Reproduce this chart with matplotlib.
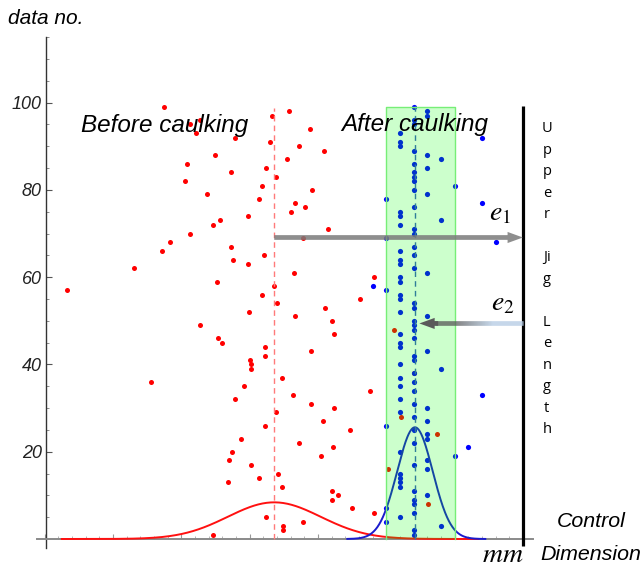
import numpy as np
import matplotlib
matplotlib.use("Agg")
import matplotlib.pyplot as plt
from matplotlib.collections import LineCollection
from matplotlib.colors import to_rgb
from matplotlib.ticker import MultipleLocator

plt.rcParams['font.family'] = ['Liberation Sans', 'DejaVu Sans']
plt.rcParams['mathtext.fontset'] = 'stix'

# data no. 1..99, measured dimension (x in arbitrary mm units, tick = 1)
red_no = np.arange(1, 100)
red_x = [1.47, 2.49, 2.49, 2.78, 2.24, 3.82, 3.50, 4.61, 3.21, 3.30,
         3.21, 2.48, 1.68, 2.13, 2.42, 4.02, 2.02, 1.70, 3.04, 1.74,
         3.22, 2.72, 1.88, 4.75, 3.47, 2.22, 3.07, 4.22, 2.38, 3.23,
         2.90, 1.79, 2.63, 3.76, 1.92, 0.55, 2.47, 4.41, 2.02, 2.02,
         2.00, 2.23, 2.90, 2.22, 1.59, 1.54, 3.23, 4.11, 1.28, 3.21,
         2.66, 1.99, 3.10, 2.40, 3.62, 2.18, -0.67, 2.35, 1.52, 3.82,
         2.65, 0.30, 1.98, 1.75, 2.21, 0.72, 1.73, 0.84, 2.78, 1.12,
         3.15, 1.47, 1.57, 1.97, 2.61, 2.81, 2.66, 2.13, 1.37, 2.92,
         2.18, 1.06, 2.38, 1.73, 2.24, 1.08, 2.55, 1.49, 3.09, 2.72,
         2.30, 1.78, 1.22, 2.89, 1.13, 1.28, 2.33, 2.58, 0.75]

blue_no = np.arange(1, 100)
blue_x = [4.4, 4.4, 4.8, 4.0, 4.2, 4.4, 4.0, 4.4, 4.4, 4.6,
          4.4, 4.2, 4.2, 4.2, 4.2, 4.6, 4.4, 4.6, 5.0, 4.2,
          5.2, 4.4, 4.6, 4.6, 4.4, 4.0, 4.6, 4.4, 4.2, 4.6,
          4.4, 4.2, 5.4, 4.4, 4.2, 4.4, 4.2, 4.4, 4.8, 4.2,
          4.4, 4.4, 4.6, 4.2, 4.2, 4.4, 4.2, 4.4, 4.4, 4.4,
          4.6, 4.2, 4.4, 4.4, 4.2, 4.2, 4.0, 3.8, 4.2, 4.2,
          4.6, 4.4, 4.2, 4.2, 4.4, 4.2, 4.4, 5.6, 4.0, 4.4,
          4.4, 4.2, 4.8, 4.2, 4.2, 4.4, 5.4, 4.0, 4.6, 4.4,
          5.0, 4.4, 4.4, 4.4, 4.6, 4.4, 4.8, 4.6, 4.4, 4.2,
          4.2, 5.4, 4.2, np.nan, 4.4, 4.4, 4.6, 4.6, 4.4]

# fitted normal curves (mean, sd, peak height, plotted range)
red_mean, red_sd, red_peak = 2.36, 0.68, 8.4
red_range = (-0.75, 5.35)
blue_mean, blue_sd, blue_peak = 4.42, 0.26, 25.6
blue_range = (3.43, 5.45)

tol_low, tol_high, tol_top = 4.0, 5.0, 99.0   # green tolerance band
upper_jig = 6.0
e1_y, e2_y = 69.1, 49.4
y_ticks = [20, 40, 60, 80, 100]


def gauss(x, m, s, h):
    return h * np.exp(-(x - m) ** 2 / (2 * s ** 2))


fig = plt.figure(figsize=(6.44, 5.70), dpi=100)
ax = fig.add_axes([0.0575, 0.0391, 0.7702, 0.8956])
ax.set_xlim(-1.113, 6.149)
ax.set_ylim(-2, 115)

ax.scatter(red_x, red_no, s=13, color='#ff0000', linewidths=0, zorder=2)
ax.scatter(blue_x, blue_no, s=14, color='#0000ff', linewidths=0, zorder=3)

xr = np.linspace(*red_range, 300)
ax.plot(xr, gauss(xr, red_mean, red_sd, red_peak), color='#ff1010', lw=1.4, zorder=3)
xb = np.linspace(*blue_range, 300)
ax.plot(xb, gauss(xb, blue_mean, blue_sd, blue_peak), color='#1a1acc', lw=1.4, zorder=3)

ax.plot([red_mean, red_mean], [0, 98.8], color='#ff7a7a', lw=1.0,
        dashes=(4, 3), zorder=4)
ax.plot([blue_mean, blue_mean], [0, 99.2], color='#3d5fc0', lw=1.0,
        dashes=(4, 3), zorder=4)

ax.fill_between([tol_low, tol_high], 0, tol_top, color='#00ff00', alpha=0.2,
                lw=0, zorder=5)
ax.plot([tol_low, tol_low, tol_high, tol_high], [0, tol_top, tol_top, 0],
        color='#77ee77', lw=1.0, zorder=5)

ax.plot([upper_jig, upper_jig], [-1.5, 99.2], color='black', lw=2.3,
        solid_capstyle='butt', zorder=6, clip_on=False)

# e1 arrow
ax.annotate('', xy=(upper_jig, e1_y), xytext=(red_mean, e1_y),
            arrowprops=dict(arrowstyle='simple,head_length=1.1,head_width=0.8,tail_width=0.34',
                            color='#7a7a7a', alpha=0.85, shrinkA=0, shrinkB=0,
                            lw=0), zorder=7)

# e2 arrow with gradient shaft
xs = np.linspace(4.72, upper_jig, 120)
c_dark = np.array(to_rgb('#5a5a5a'))
c_light = np.array(to_rgb('#b4cbe4'))
cols = []
for i in range(len(xs) - 1):
    t = np.clip((xs[i] - 5.0) / 0.55, 0, 1)
    cols.append(c_dark * (1 - t) + c_light * t)
segs = [[(xs[i], e2_y), (xs[i + 1], e2_y)] for i in range(len(xs) - 1)]
ax.add_collection(LineCollection(segs, colors=cols, linewidths=3.3,
                                 capstyle='butt', zorder=7))
ax.annotate('', xy=(4.485, e2_y), xytext=(4.76, e2_y),
            arrowprops=dict(arrowstyle='simple,head_length=1.1,head_width=0.8,tail_width=0.34',
                            color='#5a5a5a', shrinkA=0, shrinkB=0, lw=0), zorder=7)

ax.text(5.66, 73.1, r'$e_1$', fontsize=20, ha='center', va='baseline', zorder=8)
ax.text(5.70, 52.5, r'$e_2$', fontsize=20, ha='center', va='baseline', zorder=8)

ax.text(0.76, 93.3, 'Before caulking', fontsize=17.5, style='italic',
        ha='center', va='baseline', zorder=8)
ax.text(4.42, 93.4, 'After caulking', fontsize=17.5, style='italic',
        ha='center', va='baseline', zorder=8)

ax.text(6.35, 59.5, 'U\np\np\ne\nr\n\nJi\ng\n\nL\ne\nn\ng\nt\nh',
        family='Open Sans', fontsize=10.5, linespacing=1.59,
        ha='center', va='center', clip_on=False)

# axes styling
for s in ['top', 'right']:
    ax.spines[s].set_visible(False)
ax.spines['bottom'].set_position(('data', 0))
ax.spines['bottom'].set_color('#8a8a8a')
ax.spines['bottom'].set_linewidth(1.4)
ax.spines['left'].set_position(('data', -0.98))
ax.spines['left'].set_color('#333333')
ax.spines['left'].set_linewidth(1.0)

ax.set_yticks(y_ticks)
ax.set_yticklabels([str(v) for v in y_ticks], fontstyle='italic')
ax.yaxis.set_minor_locator(MultipleLocator(5))
ax.set_xticks(range(-1, 7))
ax.set_xticklabels([])
ax.xaxis.set_minor_locator(MultipleLocator(0.2))
ax.tick_params(axis='y', which='major', direction='in', length=4, width=0.8,
               color='#555555', labelsize=13, pad=3, labelcolor='#222222')
ax.tick_params(axis='y', which='minor', direction='in', length=2.5, width=0.6,
               color='#777777')
ax.tick_params(axis='x', which='major', direction='in', length=3.5, width=0.8,
               color='#999999')
ax.tick_params(axis='x', which='minor', direction='in', length=2, width=0.6,
               color='#aaaaaa')

fig.text(8 / 644, 1 - 24 / 570, 'data no.', fontsize=15, style='italic',
         ha='left', va='baseline')
fig.text(503 / 644, 1 - 562 / 570, r'$mm$', fontsize=20, ha='center',
         va='baseline')
fig.text(591 / 644, 1 - 527 / 570, 'Control', fontsize=15.4, style='italic',
         ha='center', va='baseline')
fig.text(591 / 644, 1 - 560 / 570, 'Dimension', fontsize=15.4, style='italic',
         ha='center', va='baseline')

fig.savefig('out.png', dpi=100)
